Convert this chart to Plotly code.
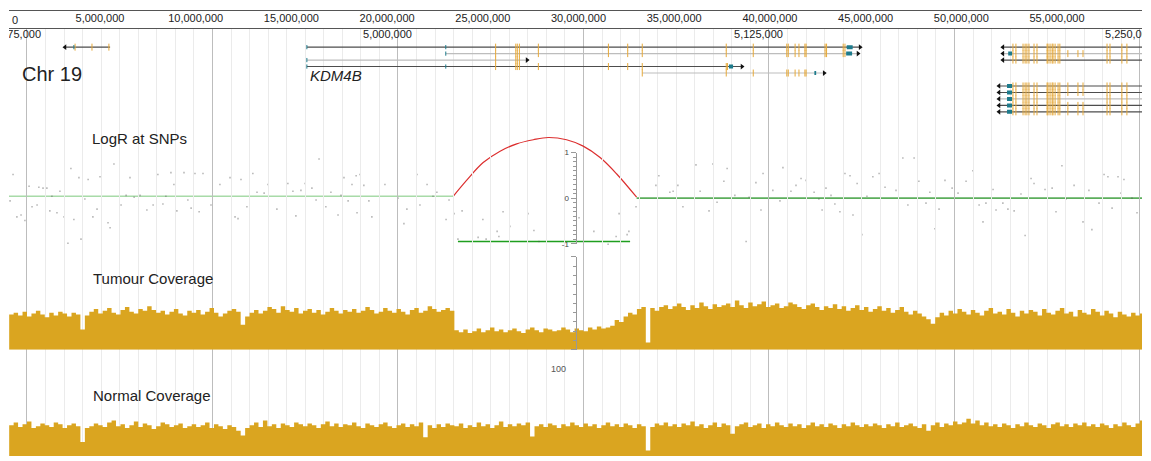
import plotly.graph_objects as go

# ======================= DATA =======================
# Whole-chromosome ruler (top)
CHROM_TICKS = [5e6, 10e6, 15e6, 20e6, 25e6, 30e6, 35e6, 40e6, 45e6, 50e6, 55e6]
CHROM_TICK_TEXT = ["5,000,000", "10,000,000", "15,000,000", "20,000,000", "25,000,000",
                   "30,000,000", "35,000,000", "40,000,000", "45,000,000", "50,000,000", "55,000,000"]
CHROM_RANGE = [245600, 59440000]

# Zoomed view (kb)
VIEW_RANGE_KB = [4868.94, 5250.68]
LOWER_TICKS_KB = [4875, 5000, 5125, 5250]
LOWER_TICK_TEXT = ["4,875,000", "5,000,000", "5,125,000", "5,250,000"]
MAJOR_GRID_KB = 62.5
MINOR_GRID_KB = 6.25

# Gene models (kb); rows are stacking slots in the gene track
TX_ROW = [0, 0, 1, 2, 3, 4, 0, 1, 2, 6, 7, 8, 9, 10]
TX_START = [4887.8, 4969.3, 5016.1, 4969.3, 4969.3, 5082.3,
            5203.8, 5203.8, 5203.8, 5202.5, 5202.5, 5202.5, 5202.5, 5202.5]
TX_END = [4903.0, 5155.7, 5155.0, 5043.5, 5115.9, 5143.6,
          5262.0, 5262.0, 5262.0, 5262.0, 5262.0, 5262.0, 5262.0, 5262.0]
TX_STRAND = ["-", "+", "+", "+", "+", "+", "-", "-", "-", "-", "-", "-", "-", "-"]
TX_SHADE = ["dark", "dark", "light", "light", "dark", "light",
            "dark", "light", "dark", "dark", "dark", "light", "dark", "dark"]

KDM4B_EXONS = [5032.9, 5039.7, 5040.2, 5040.9, 5047.3, 5070.9, 5077.4, 5082.3, 5110.6, 5119.7,
               5131.0, 5131.5, 5133.8, 5135.1, 5137.1, 5137.5, 5143.9, 5144.4, 5150.0, 5150.6]
KDM4B_SHORT_EXONS = [5032.9, 5039.7, 5040.2, 5040.9]
KDM4B_MID_EXONS = [5032.9, 5039.7, 5040.2, 5040.9, 5047.3, 5070.9, 5077.4, 5082.3, 5110.6, 5111.0]
KDM4B_LATE_EXONS = [5082.3, 5110.6, 5119.7, 5131.0, 5131.5, 5133.8, 5135.1, 5137.1, 5137.5]
RIGHT_EXONS = [5207.2, 5208.2, 5210.6, 5211.3, 5211.9, 5212.6, 5214.3, 5215.3, 5218.7, 5219.0,
               5219.7, 5220.4, 5220.7, 5221.4, 5222.4, 5223.0, 5225.7, 5229.1, 5230.8, 5238.9,
               5239.9, 5243.9, 5245.6]
RIGHT_SHORT_EXONS = [5207.2, 5208.2, 5210.6, 5211.3, 5211.9, 5212.6, 5214.3, 5215.3, 5218.7, 5219.0,
                     5219.7, 5220.4, 5220.7, 5221.4, 5222.4, 5223.0, 5238.9, 5239.9, 5243.9, 5245.6]
LEFT_EXONS = [4891.2, 4896.9, 4902.6]

TX_EXONS = [LEFT_EXONS, KDM4B_EXONS, KDM4B_EXONS, KDM4B_SHORT_EXONS, KDM4B_MID_EXONS, KDM4B_LATE_EXONS,
            RIGHT_SHORT_EXONS, RIGHT_EXONS, RIGHT_SHORT_EXONS, RIGHT_EXONS, RIGHT_EXONS,
            RIGHT_SHORT_EXONS, RIGHT_EXONS, RIGHT_EXONS]
TX_UTR_TICKS = [[4890.8], [4969.3, 5016.1], [5016.1], [4969.3], [4969.3, 5016.1], [],
                [], [], [], [], [], [], [], []]
TX_UTR_BLOCKS = [None, (5151.2, 5153.2), (5151.0, 5153.0), None, (5111.5, 5112.9), (5140.3, 5140.9),
                 None, (5205.6, 5206.9), None, (5205.2, 5206.9), (5205.2, 5206.9), (5205.2, 5206.9),
                 (5205.2, 5206.9), (5205.2, 5206.9)]

# LogR at SNPs: scattered points (kb, logR)
DOT_KB = [4870.3, 4889.8, 4904.3, 4892.5, 4895.6, 4899.6, 4909.7, 4919.1, 4923.5, 4927.9,
          4931.6, 4934.3, 4924.5, 4875.7, 4879.0, 4880.4, 4881.7, 4886.1, 4883.4, 4908.4,
          4911.1, 4913.1, 4921.8, 4894.5, 4929.2, 4869.3, 4876.7, 4878.4, 4882.7, 4885.1,
          4887.5, 4890.8, 4897.2, 4898.6, 4906.7, 4915.4, 4917.5, 4920.8, 4925.5, 4930.3,
          4933.0, 4871.6, 4873.0, 4874.3, 4902.3, 4903.0, 4888.8, 4893.2, 4937.0, 4940.0,
          4943.4, 4947.1, 4951.1, 4952.5, 4954.9, 4956.2, 4962.9, 4964.6, 4967.3, 4968.7,
          4971.0, 4973.4, 4977.4, 4981.8, 4984.5, 4985.9, 4987.2, 4988.5, 4995.6, 4980.8,
          4983.2, 4990.2, 4945.1, 4946.1, 4949.1, 4959.2, 4965.6, 4972.4, 4975.7, 4979.8,
          4986.2, 4991.2, 5000.0,
          5003.0, 5002.0, 5006.4, 5009.8, 5013.1, 5011.8, 5007.4, 5017.2, 5016.2, 5018.9,
          5021.6, 5020.2, 5027.0, 5028.6, 5029.7, 5033.4, 5034.0, 5035.4, 5037.7, 5043.8,
          5045.8, 5047.5, 5061.0, 5066.0, 5070.8, 5073.5, 5074.5, 5077.2, 5077.8, 5080.2,
          5086.9, 5087.9, 5091.6, 5092.7, 5094.3, 5096.0, 5100.4,
          5101.8, 5106.1, 5110.9, 5109.8, 5104.8, 5107.5, 5113.5, 5118.3, 5117.3, 5120.6,
          5122.3, 5123.0, 5126.3, 5128.7, 5129.7, 5132.4, 5134.1, 5135.8, 5137.5, 5140.2,
          5141.8, 5142.9, 5144.2, 5145.9, 5147.2, 5148.9, 5150.6, 5152.3, 5153.3, 5154.7,
          5156.3, 5158.0, 5160.0, 5162.1, 5164.1, 5167.8, 5170.1, 5171.8, 5173.9, 5175.5,
          5177.9, 5179.2, 5180.9, 5182.3, 5184.3, 5186.7, 5188.7, 5191.4, 5193.7, 5195.8,
          5197.1, 5198.1, 5200.5, 5201.5, 5203.8, 5205.5, 5207.6, 5209.9, 5211.3, 5213.3,
          5214.3, 5218.0, 5220.4, 5221.7, 5223.7, 5225.1, 5227.8, 5230.8, 5232.8, 5233.8,
          5236.2, 5237.9, 5239.2, 5240.6, 5242.6, 5243.6, 5244.6, 5247.3, 5249.0]
DOT_LOGR = [0.52, 0.65, 0.75, 0.45, 0.41, 0.47, 0.45, 0.52, 0.56, 0.56,
            0.54, 0.54, 0.30, 0.26, 0.24, 0.22, 0.22, 0.15, 0.04, 0.06,
            0.02, 0.06, 0.04, -0.02, -0.04, -0.06, -0.19, -0.15, -0.28, -0.32,
            -0.41, -0.47, -0.41, -0.24, -0.15, -0.26, -0.15, -0.13, -0.28, -0.22,
            -0.30, -0.41, -0.37, -0.49, -0.54, -0.65, -0.99, -0.90, -0.15, 0.30,
            0.45, 0.41, 0.54, 0.13, 0.11, 0.30, 0.32, 0.15, 0.17, 0.32,
            0.22, 0.86, 0.13, 0.45, 0.30, 0.49, 0.52, 0.28, 0.30, 0.06,
            -0.06, -0.06, -0.41, -0.45, -0.19, -0.24, -0.39, -0.04, -0.19, -0.37,
            -0.32, -0.41, 0.00,
            -0.24, -0.56, 0.52, 0.30, 0.13, 0.04, -0.15, -0.04, -0.47, -0.34,
            -0.28, -0.90, -0.86, -0.47, -0.90, -0.73, -0.84, -0.30, -0.62, -0.34,
            -0.71, -0.95, -0.43, -0.73, -1.01, -0.84, -0.34, -0.80, -0.73, -0.19,
            0.28, 0.49, 0.13, 0.15, 0.28, -0.19, 0.73,
            0.15, 0.75, 0.65, 0.37, -0.28, -0.09, 0.06, 0.02, -0.95, 0.34,
            -0.26, 0.54, 0.17, -0.06, 0.67, 0.15, 0.28, 0.43, 0.39, 0.13,
            -0.02, -0.26, 0.22, 0.06, -0.13, -0.30, 0.54, 0.49, -0.37, 0.32,
            -0.80, 0.04, 0.47, 0.54, 0.24, 0.17, 0.88, -0.15, 0.88, 0.37,
            -0.11, 0.13, -0.67, -0.24, 0.39, 0.22, 0.11, 0.37, 0.60, -0.15,
            -0.52, -0.11, 0.19, -0.26, -0.11, -0.24, -0.28, 0.09, -0.82, 0.43,
            0.32, 0.19, 0.22, -0.30, 0.71, -0.02, 0.28, -0.52, 0.17, -0.69,
            -0.11, 0.52, 0.47, -0.22, 0.47, 0.11, 0.41, 0.00, -0.32]

# Red arc over the gained segment (kb, logR)
ARC_KB = [5018.6, 5023.1, 5028.7, 5034.4, 5040.0, 5045.6, 5050.6, 5056.8, 5062.4, 5068.1, 5073.7, 5080.4]
ARC_LOGR = [0.04, 0.39, 0.78, 1.03, 1.19, 1.28, 1.33, 1.28, 1.14, 0.89, 0.53, 0.02]

# Segment means (kb start, kb end, logR)
SEG_START = [4868.9, 5020.2, 5080.4]
SEG_END = [5018.6, 5078.2, 5251.0]
SEG_LOGR = [0.04, -0.95, 0.0]
SEG_COLOR = ["rgba(110,195,110,0.6)", "#1f9e1f", "#5cae5c"]

# Coverage bins
BIN_START_KB = 4869.0
BIN_W_KB = 1.5
TUMOUR_COV = [
    38, 40, 37, 41, 36, 39, 42, 38, 35, 40, 37, 41, 39, 36, 40,
    38, 22, 37, 41, 44, 39, 42, 45, 40, 38, 43, 46, 41, 39, 44,
    42, 47, 43, 40, 42, 38, 41, 44, 39, 37, 42, 40, 43, 38, 41,
    45, 40, 36, 39, 42, 44, 41, 27, 36, 40, 43, 39, 42, 46, 44,
    40, 47, 43, 41, 45, 39, 42, 44, 40, 43, 38, 41, 45, 42, 39,
    43, 41, 44, 40, 42, 46, 43, 39, 41, 45, 42, 40, 44, 41, 38,
    43, 45, 40, 42, 47, 44, 41, 43, 45, 42, 21, 19, 22, 18, 20,
    23, 19, 21, 24, 20, 22, 19, 21, 23, 20, 18, 22, 24, 21, 19,
    23, 22, 20, 21, 24, 22, 19, 23, 21, 20, 24, 22, 25, 23, 24,
    26, 32, 30, 36, 40, 38, 44, 46, 8, 45, 42, 46, 48, 44, 47,
    50, 46, 43, 48, 45, 51, 47, 44, 49, 46, 48, 50, 46, 53, 48,
    45, 51, 47, 49, 52, 46, 48, 50, 45, 47, 51, 49, 46, 44, 48,
    50, 46, 43, 47, 45, 49, 44, 47, 42, 45, 48, 43, 46, 41, 44,
    47, 42, 45, 40, 43, 46, 41, 38, 42, 39, 36, 33, 28, 35, 40,
    37, 42, 39, 44, 41, 38, 43, 40, 37, 42, 45, 39, 41, 38, 44,
    40, 36, 42, 39, 43, 41, 37, 44, 40, 38, 42, 45, 39, 41, 36,
    43, 40, 38, 44, 41, 37, 42, 39, 35, 41, 38, 36, 40, 37, 39]
NORMAL_COV = [
    33, 36, 31, 34, 37, 30, 32, 35, 33, 31, 36, 34, 30, 33, 35,
    32, 15, 30, 32, 35, 33, 31, 36, 38, 32, 34, 30, 33, 37, 31,
    35, 33, 29, 32, 36, 34, 31, 33, 35, 30, 32, 34, 31, 33, 36,
    30, 34, 32, 29, 33, 31, 27, 22, 30, 33, 36, 31, 38, 32, 34,
    30, 35, 33, 31, 36, 34, 32, 35, 33, 30, 34, 37, 32, 35, 31,
    34, 33, 36, 32, 30, 35, 33, 31, 34, 36, 32, 30, 33, 35, 31,
    34, 32, 36, 20, 33, 30, 34, 31, 35, 33, 32, 35, 30, 33, 31,
    36, 32, 34, 30, 33, 37, 31, 34, 32, 35, 33, 36, 21, 32, 34,
    31, 35, 33, 30, 34, 32, 36, 33, 31, 35, 32, 34, 30, 33, 36,
    32, 34, 31, 35, 33, 30, 34, 32, 6, 31, 35, 33, 36, 32, 34,
    31, 35, 33, 37, 32, 34, 30, 33, 36, 31, 35, 33, 24, 32, 34,
    36, 31, 33, 35, 30, 34, 32, 36, 33, 31, 35, 32, 34, 30, 33,
    36, 32, 34, 31, 35, 33, 30, 34, 32, 36, 33, 31, 34, 32, 35,
    33, 30, 34, 32, 36, 31, 33, 35, 32, 30, 34, 27, 33, 36, 31,
    35, 33, 37, 34, 36, 40, 35, 38, 33, 36, 32, 34, 31, 35, 33,
    30, 34, 32, 36, 33, 31, 35, 33, 30, 34, 36, 32, 34, 31, 35,
    33, 36, 32, 34, 31, 35, 33, 30, 34, 32, 36, 33, 31, 35, 38]

# ======================= LAYOUT HELPERS =======================
FIG_W, FIG_H = 1151, 461
ML, MR = 9, 9
PLOT_W = FIG_W - ML - MR


def px_x(px):
    return (px - ML) / PLOT_W


def px_y(py):
    return 1 - py / FIG_H


FONT = "Liberation Sans, Arial, sans-serif"
TEXT_C = "#222222"
EXON_C = "#e6a93a"
UTR_C = "#1d7b8c"
COV_C = "#DAA520"
LINE_C = {"dark": "#4d4d4d", "light": "#bdbdbd"}

GENE_ROW_PX0, GENE_ROW_STEP = 44, 6.6
gene_range = [(120 - GENE_ROW_PX0) / GENE_ROW_STEP, (24 - GENE_ROW_PX0) / GENE_ROW_STEP]
LOGR_ZERO_PX, LOGR_UNIT_PX = 198, 46.5
logr_range = [(LOGR_ZERO_PX - 258) / LOGR_UNIT_PX, (LOGR_ZERO_PX - 120) / LOGR_UNIT_PX]

fig = go.Figure()

# ---- ruler labels
fig.add_trace(go.Scatter(x=CHROM_TICKS, y=[0.47] * len(CHROM_TICKS), mode="text", text=CHROM_TICK_TEXT,
                         textfont=dict(size=11, color=TEXT_C, family=FONT), xaxis="x2", yaxis="y6",
                         cliponaxis=False, hoverinfo="skip", showlegend=False))

# ---- gene track
for shade in ["light", "dark"]:
    xs, ys = [], []
    for i in range(len(TX_ROW)):
        if TX_SHADE[i] == shade:
            xs += [TX_START[i], TX_END[i], None]
            ys += [TX_ROW[i], TX_ROW[i], None]
    fig.add_trace(go.Scatter(x=xs, y=ys, mode="lines", line=dict(color=LINE_C[shade], width=1.1),
                             hoverinfo="skip", showlegend=False))

bx, by = [], []
for i, blk in enumerate(TX_UTR_BLOCKS):
    if blk:
        bx += [blk[0], blk[1], None]
        by += [TX_ROW[i], TX_ROW[i], None]
fig.add_trace(go.Scatter(x=bx, y=by, mode="lines", line=dict(color=UTR_C, width=4),
                         hoverinfo="skip", showlegend=False))

ex, ey = [], []
for i, exs in enumerate(TX_EXONS):
    ex += exs
    ey += [TX_ROW[i]] * len(exs)
fig.add_trace(go.Scatter(x=ex, y=ey, mode="markers",
                         marker=dict(symbol="line-ns", size=5, line=dict(width=1, color=EXON_C)),
                         hoverinfo="skip", showlegend=False))

ux, uy = [], []
for i, us in enumerate(TX_UTR_TICKS):
    ux += us
    uy += [TX_ROW[i]] * len(us)
fig.add_trace(go.Scatter(x=ux, y=uy, mode="markers",
                         marker=dict(symbol="line-ns", size=3, line=dict(width=1, color=UTR_C)),
                         hoverinfo="skip", showlegend=False))

for strand, sym in [("+", "triangle-right"), ("-", "triangle-left")]:
    ax_, ay_ = [], []
    for i in range(len(TX_ROW)):
        if TX_STRAND[i] == strand:
            ax_.append(TX_END[i] if strand == "+" else TX_START[i])
            ay_.append(TX_ROW[i])
    fig.add_trace(go.Scatter(x=ax_, y=ay_, mode="markers",
                             marker=dict(symbol=sym, size=5, color="#111111"),
                             hoverinfo="skip", showlegend=False))

LABEL_SHIFT_KB = 14 * (VIEW_RANGE_KB[1] - VIEW_RANGE_KB[0]) / PLOT_W
fig.add_trace(go.Scatter(x=[t + LABEL_SHIFT_KB for t in LOWER_TICKS_KB],
                         y=[(31.5 - GENE_ROW_PX0) / GENE_ROW_STEP] * len(LOWER_TICKS_KB),
                         mode="text", text=LOWER_TICK_TEXT, textposition="middle left",
                         textfont=dict(size=11, color=TEXT_C, family=FONT),
                         cliponaxis=True, hoverinfo="skip", showlegend=False))

# ---- LogR track
for s, e, v, c in zip(SEG_START, SEG_END, SEG_LOGR, SEG_COLOR):
    fig.add_trace(go.Scatter(x=[s, e], y=[v, v], mode="lines", line=dict(color=c, width=1.6),
                             xaxis="x", yaxis="y2", hoverinfo="skip", showlegend=False))
fig.add_trace(go.Scatter(x=DOT_KB, y=DOT_LOGR, mode="markers",
                         marker=dict(symbol="square", size=1.6, color="rgba(80,80,80,0.4)", line=dict(width=0)),
                         xaxis="x", yaxis="y2", hoverinfo="skip", showlegend=False))
fig.add_trace(go.Scatter(x=ARC_KB, y=ARC_LOGR, mode="lines", line=dict(color="#dc2f2f", width=1.2, shape="spline"),
                         xaxis="x", yaxis="y2", hoverinfo="skip", showlegend=False))
fig.add_trace(go.Scatter(x=[None], y=[None], mode="markers", xaxis="x", yaxis="y3",
                         hoverinfo="skip", showlegend=False))

# ---- coverage tracks
def cov_trace(vals, yaxis):
    xs = [BIN_START_KB + i * BIN_W_KB for i in range(len(vals) + 1)]
    ys = list(vals) + [vals[-1]]
    return go.Scatter(x=xs, y=ys, mode="lines", line=dict(width=0, shape="hv"), fill="tozeroy",
                      fillcolor=COV_C, xaxis="x", yaxis=yaxis, hoverinfo="skip", showlegend=False)


fig.add_trace(cov_trace(TUMOUR_COV, "y4"))
fig.add_trace(cov_trace(NORMAL_COV, "y5"))

# ======================= AXES =======================
hidden = dict(visible=False, showgrid=False, zeroline=False, fixedrange=True)
fig.update_layout(
    width=FIG_W, autosize=True,
    margin=dict(l=ML, r=MR, t=0, b=0, pad=0),
    paper_bgcolor="white", plot_bgcolor="rgba(0,0,0,0)",
    font=dict(family=FONT, color=TEXT_C),
    xaxis=dict(domain=[0, 1], range=VIEW_RANGE_KB, anchor="y", tickmode="linear",
               tick0=LOWER_TICKS_KB[0], dtick=MAJOR_GRID_KB, showgrid=True, gridcolor="#bdbdbd",
               gridwidth=1, showticklabels=False, ticks="", zeroline=False, showline=False,
               minor=dict(tick0=LOWER_TICKS_KB[0], dtick=MINOR_GRID_KB, showgrid=True,
                          gridcolor="#ebebeb", gridwidth=1, ticks="")),
    xaxis2=dict(domain=[0, 1], range=CHROM_RANGE, anchor="y6", showline=True, mirror=True,
                linecolor="#555555", linewidth=1, showgrid=False, ticks="", showticklabels=False,
                zeroline=False),
    yaxis=dict(domain=[px_y(120), px_y(24)], range=gene_range, **hidden),
    yaxis2=dict(domain=[px_y(258), px_y(120)], range=logr_range, **hidden),
    yaxis3=dict(domain=[px_y(LOGR_ZERO_PX + LOGR_UNIT_PX), px_y(LOGR_ZERO_PX - LOGR_UNIT_PX)],
                range=[-1, 1], anchor="free", position=0.5, side="left",
                showline=True, linecolor="#999999", linewidth=1, ticks="outside", ticklen=5,
                tickcolor="#999999", tickvals=[-1, 0, 1], ticktext=["-1", "0", "1"],
                tickfont=dict(size=8, color="#444444"), showgrid=False, zeroline=False,
                minor=dict(tickmode="linear", tick0=-1, dtick=0.1, ticks="outside", ticklen=3,
                           tickcolor="#999999", showgrid=False)),
    yaxis4=dict(domain=[px_y(352.7), px_y(258)], range=[0, 100], anchor="free", position=0.5,
                side="left", showline=True, linecolor="#999999", linewidth=1, ticks="outside",
                ticklen=5, tickcolor="#999999", tickvals=[0, 100], showticklabels=False,
                showgrid=False, zeroline=False,
                minor=dict(tickmode="linear", tick0=0, dtick=10, ticks="outside", ticklen=3,
                           tickcolor="#999999", showgrid=False)),
    yaxis5=dict(domain=[0, px_y(352.7)], range=[0, 114], **hidden),
    yaxis6=dict(domain=[px_y(24), px_y(7)], range=[0, 1], **hidden),
)

ann = [
    dict(text="0", x=px_x(9.5), y=px_y(16), xanchor="left", font=dict(size=11)),
    dict(text="Chr 19", x=px_x(20), y=px_y(71.5), xanchor="left", font=dict(size=20)),
    dict(text="<i>KDM4B</i>", x=px_x(307.5), y=px_y(73), xanchor="left", font=dict(size=15)),
    dict(text="LogR at SNPs", x=px_x(89.5), y=px_y(137), xanchor="left", font=dict(size=15)),
    dict(text="Tumour Coverage", x=px_x(90.5), y=px_y(280), xanchor="left", font=dict(size=15)),
    dict(text="Normal Coverage", x=px_x(90.5), y=px_y(399), xanchor="left", font=dict(size=15)),
    dict(text="100", x=px_x(558), y=px_y(372), xanchor="center", font=dict(size=9, color="#555555")),
]
for a in ann:
    a.update(xref="paper", yref="paper", yanchor="middle", showarrow=False)
    a.setdefault("font", {})
    a["font"].setdefault("color", TEXT_C)
    a["font"]["family"] = FONT
fig.update_layout(annotations=ann)

PAGE_FIX = ("document.body.style.margin='0';document.body.style.overflow='hidden';"
            "var g=document.getElementById('{plot_id}');g.style.position='fixed';"
            "g.style.top='0';g.style.left='0';")
fig.write_html("out.html", default_height="100vh", config={"displayModeBar": False},
               post_script=PAGE_FIX)
